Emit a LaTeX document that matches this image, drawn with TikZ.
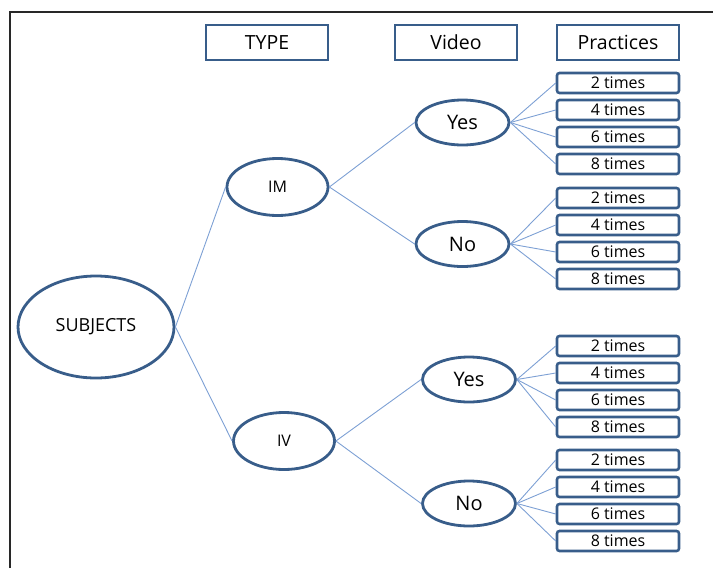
\documentclass[tikz,border=0pt]{standalone}
\usepackage{fontspec}
\setmainfont{Open Sans}
\usetikzlibrary{shapes.geometric}
\definecolor{bord}{RGB}{56,93,138}
\definecolor{conn}{RGB}{125,160,212}
\definecolor{frame}{RGB}{40,40,40}
\tikzset{
  hdr/.style={draw=bord, line width=2.8pt, minimum width=122pt, minimum height=35pt, inner sep=0pt, font=\fontsize{19.5}{19.5}\selectfont},
  pbox/.style={draw=bord, line width=2.6pt, rounded corners=2.5pt, minimum width=122pt, minimum height=20pt, inner sep=0pt, font=\fontsize{16}{16}\selectfont},
  ell/.style={draw=bord, line width=2.8pt, ellipse, inner sep=0pt},
  conline/.style={draw=conn, line width=0.9pt},
}
\begin{document}
\begin{tikzpicture}[x=1pt,y=-1pt]
\useasboundingbox (0,0) rectangle (715,568);
\coordinate (fa) at (10,568);
\coordinate (fb) at (10,12);
\coordinate (fc) at (713,12);
\draw[frame, line width=1.5pt] (fa) -- (fb) -- (fc);

\node[hdr] (type) at (267,42.5) {TYPE};
\node[hdr] (video) at (456,42.5) {Video};
\node[hdr] (pract) at (618,42.5) {Practices};

\node[ell, minimum width=156pt, minimum height=102pt, font=\fontsize{18}{18}\selectfont] (subj) at (96,327) {SUBJECTS};
\node[ell, minimum width=101pt, minimum height=57pt, font=\fontsize{16}{16}\selectfont] (im) at (277.5,187) {IM};
\node[ell, minimum width=101pt, minimum height=57pt, font=\fontsize{16}{16}\selectfont] (iv) at (284,441) {IV};

\node[ell, minimum width=93pt, minimum height=45pt, font=\fontsize{20}{20}\selectfont] (y1) at (462.5,122.5) {Yes};
\node[ell, minimum width=93pt, minimum height=45pt, font=\fontsize{20}{20}\selectfont] (n1) at (462.5,244) {No};
\node[ell, minimum width=93pt, minimum height=45pt, font=\fontsize{20}{20}\selectfont] (y2) at (469,379.5) {Yes};
\node[ell, minimum width=93pt, minimum height=45pt, font=\fontsize{20}{20}\selectfont] (n2) at (469,503.5) {No};

\foreach \g/\yy in {a/83, b/198, c/346, d/460}{
  \node[pbox] (\g1) at (618,\yy) {2 times};
  \node[pbox] (\g2) at (618,\yy+27) {4 times};
  \node[pbox] (\g3) at (618,\yy+54) {6 times};
  \node[pbox] (\g4) at (618,\yy+81) {8 times};
}

\draw[conline] (subj.east) -- (im.west);
\draw[conline] (subj.east) -- (iv.west);
\draw[conline] (im.east) -- (y1.west);
\draw[conline] (im.east) -- (n1.west);
\draw[conline] (iv.east) -- (y2.west);
\draw[conline] (iv.east) -- (n2.west);
\foreach \e/\g in {y1/a, n1/b, y2/c, n2/d}{
  \foreach \i in {1,2,3,4}{
    \draw[conline] (\e.east) -- (\g\i.west);
  }
}
\end{tikzpicture}
\end{document}
